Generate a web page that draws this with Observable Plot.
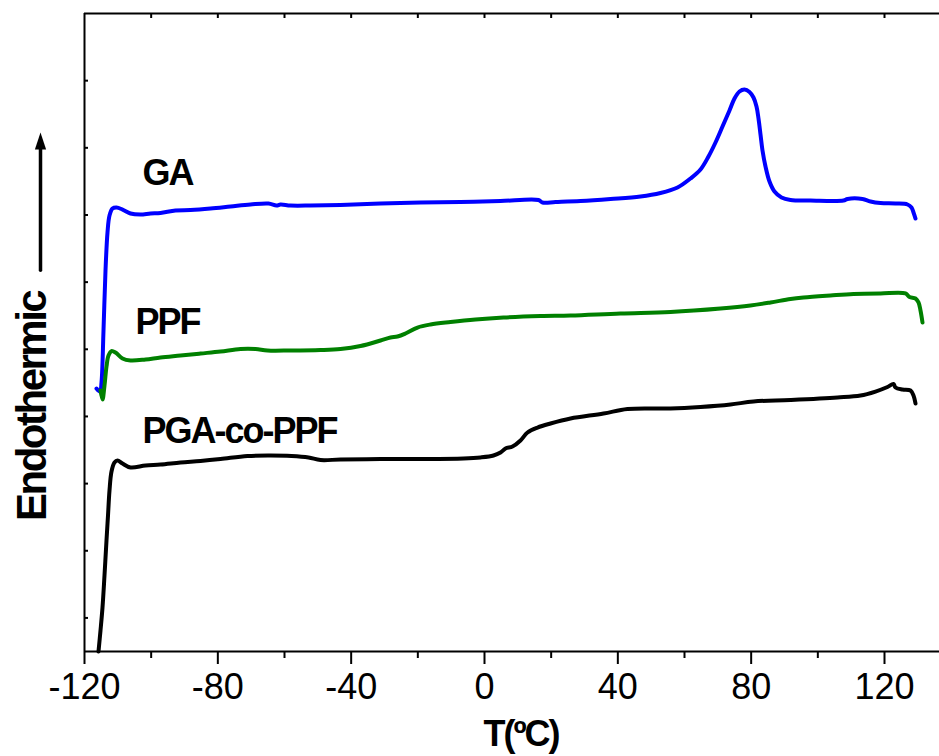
<!DOCTYPE html>
<html><head><meta charset="utf-8">
<script src="https://cdn.jsdelivr.net/npm/d3@7"></script>
<script src="https://cdn.jsdelivr.net/npm/@observablehq/plot@0.6"></script>
<style>
body{margin:0;background:#fff}
svg text{font-family:"Liberation Sans",Arial,sans-serif}
</style>
</head><body><div id="chart"></div>
<script>
// ---- data (temperature in ºC, endothermic signal in arbitrary units) ----
const gaT = [-116.4,-115.35,-114.9,-114.3,-113.7,-113.1,-112.5,-111.6,-110.4,-108.6,-106.2,-103.2,-100.2,-97.2,-92.7,-88.2,-82.2,-76.2,-70.2,-64.8,-62.4,-61.2,-58.2,-52.2,-43.2,-31.2,-19.2,-7.2,4.8,16.2,17.4,21.3,28.8,37.8,46.8,52.8,57.9,61.8,64.8,67.2,69.3,71.4,73.5,75.0,76.5,78.0,79.5,80.7,81.6,82.2,82.8,83.4,84.3,85.5,87.0,89.1,91.8,97.8,107.7,108.9,113.4,115.8,118.8,123.3,126.9,128.1,128.7,129.3];
const gaY = [3.916,3.871,4.005,4.780,5.673,6.239,6.492,6.596,6.611,6.581,6.522,6.507,6.522,6.529,6.567,6.574,6.596,6.626,6.656,6.671,6.641,6.656,6.641,6.641,6.649,6.671,6.686,6.693,6.708,6.723,6.686,6.693,6.708,6.738,6.775,6.827,6.909,7.043,7.177,7.371,7.579,7.817,8.056,8.234,8.339,8.368,8.331,8.249,8.115,7.937,7.698,7.460,7.222,6.998,6.849,6.760,6.723,6.715,6.715,6.738,6.738,6.701,6.678,6.671,6.656,6.611,6.537,6.447];

const ppfT = [-115.2,-114.6,-114.0,-113.4,-112.8,-111.9,-110.7,-108.6,-106.2,-101.7,-97.2,-91.2,-85.2,-79.2,-73.2,-68.7,-65.1,-58.2,-49.2,-43.2,-37.2,-31.2,-28.2,-26.1,-23.7,-20.1,-16.2,-10.2,-2.7,5.7,16.8,25.8,40.8,55.8,70.8,79.8,85.8,91.8,95.7,103.8,110.7,118.8,126.3,127.5,129.3,130.2,130.8,131.4];
const ppfY = [3.886,3.752,3.961,4.244,4.407,4.474,4.452,4.363,4.333,4.348,4.378,4.407,4.437,4.467,4.504,4.504,4.482,4.482,4.489,4.504,4.549,4.631,4.676,4.690,4.735,4.824,4.869,4.906,4.944,4.973,4.995,5.003,5.033,5.055,5.107,5.152,5.197,5.249,5.271,5.301,5.323,5.331,5.331,5.279,5.256,5.197,5.078,4.899];

const copT = [-115.8,-115.2,-114.6,-114.0,-113.4,-112.95,-112.5,-111.9,-111.0,-110.1,-108.6,-106.2,-101.7,-97.2,-91.2,-85.2,-79.2,-71.1,-64.2,-57.9,-52.8,-49.2,-43.2,-31.2,-19.2,-6.3,-1.2,2.7,4.8,6.3,8.4,10.8,12.9,15.9,19.8,25.8,35.7,42.9,55.8,64.8,73.8,80.7,91.8,105.9,112.8,117.3,120.9,122.7,123.3,125.4,127.8,128.7,129.3];
const copY = [0,0.313,0.655,1.132,1.653,2.025,2.397,2.680,2.814,2.844,2.799,2.740,2.770,2.784,2.814,2.837,2.866,2.911,2.918,2.911,2.889,2.851,2.859,2.866,2.866,2.874,2.889,2.918,2.963,3.023,3.052,3.142,3.261,3.335,3.395,3.469,3.544,3.611,3.618,3.641,3.678,3.723,3.745,3.782,3.812,3.871,3.938,3.983,3.931,3.901,3.886,3.812,3.693];

const seriesNames = ["GA", "PPF", "PGA-co-PPF"];
const seriesColors = ["#0000ff", "#008000", "#000000"];
const labelT = [-102.6, -104.7, -102.6];
const labelY = [6.94, 4.73, 3.10];

const majorTicks = [-120, -80, -40, 0, 40, 80, 120];
const minorTicks = [-100, -60, -20, 20, 60, 100];
const allTicks = [-100, -80, -60, -40, -20, 0, 20, 40, 60, 80, 100, 120];
const yTicks = [0.5, 1.5, 2.5, 3.5, 4.5, 5.5, 6.5, 7.5, 8.5];
const xDomain = [-120, 136.5];
const yDomain = [0, 9.5];
const xLabel = "T(ºC)";
const yLabel = "Endothermic";
// arrow annotation beside the y label (data coordinates)
const arrowT = -133.2;
const arrowY = [5.67, 7.55];
const arrowHeadY = 7.601;
const yLabelT = -131.7;
const yLabelY = 3.65;

const toRows = (T, Y) => T.map((t, i) => ({T: t, v: Y[i]}));
const series = [toRows(gaT, gaY), toRows(ppfT, ppfY), toRows(copT, copY)];

const headSymbol = {
  draw(ctx, size) {
    const s = Math.sqrt(size / Math.PI);
    ctx.moveTo(0, -s);
    ctx.lineTo(0.66 * s, s);
    ctx.lineTo(-0.66 * s, s);
    ctx.closePath();
  }
};

const plot = Plot.plot({
  width: 939,
  height: 756,
  marginLeft: 84,
  marginRight: 0,
  marginTop: 13,
  marginBottom: 105,
  x: {domain: xDomain, label: null},
  y: {domain: yDomain, label: null},
  style: {fontFamily: "Liberation Sans, Arial, sans-serif", background: "#fff", overflow: "visible"},
  marks: [
    ...series.map((rows, i) => Plot.line(rows, {
      x: "T", y: "v", stroke: seriesColors[i], strokeWidth: 4,
      curve: "catmull-rom", strokeLinejoin: "round", strokeLinecap: "round"
    })),
    Plot.ruleX([xDomain[0]], {stroke: "#000", strokeWidth: 2}),
    Plot.ruleY([yDomain[0]], {stroke: "#000", strokeWidth: 2}),
    Plot.ruleY([yDomain[1]], {stroke: "#000", strokeWidth: 2}),
    Plot.axisX({ticks: majorTicks, tickSize: 13, tickPadding: 9, fontSize: 36, strokeWidth: 2,
      tickFormat: d => String(d), label: null, fill: "#000"}),
    Plot.axisX({ticks: minorTicks, tickSize: 7, strokeWidth: 2, tickFormat: () => "", label: null}),
    Plot.axisX({anchor: "top", ticks: allTicks, tickSize: -4, strokeWidth: 2, tickFormat: () => "", label: null}),
    Plot.axisY({ticks: yTicks, tickSize: -4, strokeWidth: 2, tickFormat: () => "", label: null}),
    Plot.text(seriesNames, {
      x: (d, i) => labelT[i], y: (d, i) => labelY[i], text: d => d,
      textAnchor: "start", lineAnchor: "bottom", fontSize: 36, fontWeight: "bold",
      fill: "#000"
    }),
    Plot.text([xLabel], {
      frameAnchor: "bottom", dx: 9, dy: 94, text: d => d, lineAnchor: "bottom",
      fontSize: 36, fontWeight: "bold", fill: "#000"
    }),
    Plot.text([yLabel], {
      x: yLabelT, y: yLabelY, text: d => d, rotate: -90, textAnchor: "middle", lineAnchor: "bottom",
      fontSize: 42, fontWeight: "bold", fill: "#000"
    }),
    Plot.ruleX([arrowT], {y1: arrowY[0], y2: arrowY[1], stroke: "#000", strokeWidth: 3.5, strokeLinecap: "round"}),
    Plot.dot([arrowT], {x: d => d, y: arrowHeadY, r: 8.5, symbol: headSymbol, fill: "#000", stroke: "none"})
  ]
});

const spacing = {"GA": "-2px", "PPF": "-2px", "PGA-co-PPF": "-2px", [xLabel]: "-2px", [yLabel]: "-2.5px"};
d3.select(plot).selectAll("text").each(function() {
  const t = this.textContent;
  if (spacing[t]) this.style.letterSpacing = spacing[t];
});
document.getElementById("chart").appendChild(plot);
</script>
</body></html>
